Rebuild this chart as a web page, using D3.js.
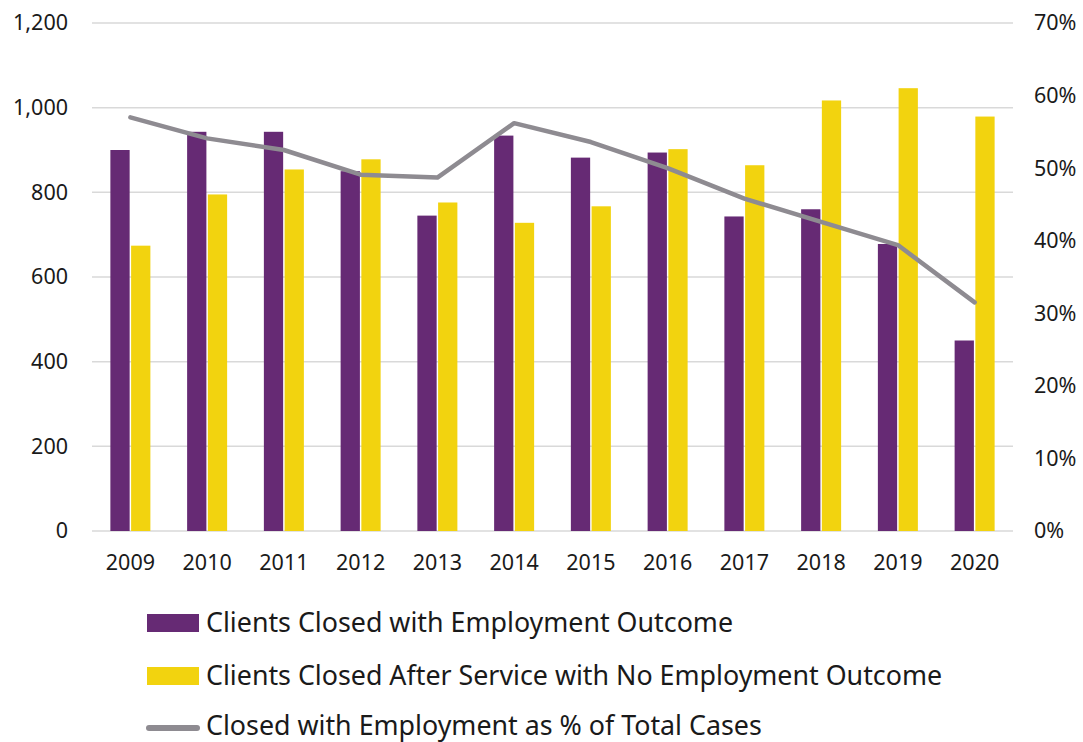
<!DOCTYPE html>
<html>
<head>
<meta charset="utf-8">
<script src="https://cdn.jsdelivr.net/npm/d3@7"></script>
<style>
  html, body { margin: 0; padding: 0; background: #fff; }
  svg { display: block; font-family: "Noto Sans", "Open Sans", sans-serif; }
</style>
</head>
<body>
<svg id="chart" width="1083" height="742"></svg>
<script>
// Annual case closures and employment share
const years = ["2009","2010","2011","2012","2013","2014","2015","2016","2017","2018","2019","2020"];
const closedEmployed = [900, 943, 943, 850, 745, 934, 882, 894, 743, 760, 678, 450];
const closedNoEmployment = [674, 795, 854, 878, 776, 728, 767, 902, 864, 1017, 1046, 979];
const employedShare = [0.570, 0.541, 0.525, 0.491, 0.487, 0.562, 0.536, 0.500, 0.458, 0.426, 0.394, 0.315];
const leftTicks = [0, 200, 400, 600, 800, 1000, 1200];
const rightTicks = [0, 0.1, 0.2, 0.3, 0.4, 0.5, 0.6, 0.7];
const seriesNames = [
  "Clients Closed with Employment Outcome",
  "Clients Closed After Service with No Employment Outcome",
  "Closed with Employment as % of Total Cases"
];

const purple = "#662a74";
const yellow = "#f2d30f";
const grey = "#8e8b91";
const textColor = "#1a1a1a";

const svg = d3.select("#chart");
const plot = { left: 92, right: 1013, top: 23, bottom: 531 };

const x = d3.scaleBand().domain(years).range([plot.left, plot.right]);
const xSub = d3.scaleBand().domain(["a", "b"]).range([0, 40]).paddingInner(0.07);
const yLeft = d3.scaleLinear().domain([0, 1200]).range([plot.bottom, plot.top]);
const yRight = d3.scaleLinear().domain([0, 0.7]).range([plot.bottom, plot.top]);

// Gridlines
svg.append("g")
  .selectAll("line")
  .data(leftTicks)
  .join("line")
  .attr("x1", plot.left).attr("x2", plot.right)
  .attr("y1", d => yLeft(d)).attr("y2", d => yLeft(d))
  .attr("stroke", "#d9d9d9").attr("stroke-width", 1.5);

function styleTicks(g) {
  g.select(".domain").remove();
  g.selectAll("text").attr("font-size", 21.5).attr("fill", textColor).attr("font-family", "Noto Sans");
}

// Left axis
svg.append("g")
  .attr("transform", `translate(${plot.left - 24},0)`)
  .call(d3.axisLeft(yLeft).tickValues(leftTicks).tickSize(0).tickPadding(0).tickFormat(d3.format(",")))
  .call(styleTicks);

// Right axis
svg.append("g")
  .attr("transform", `translate(${plot.right + 21},0)`)
  .call(d3.axisRight(yRight).tickValues(rightTicks).tickSize(0).tickPadding(0).tickFormat(d3.format(".0%")))
  .call(styleTicks);

// Bottom axis
svg.append("g")
  .attr("transform", `translate(0,${plot.bottom + 24})`)
  .call(d3.axisBottom(x).tickSize(0).tickPadding(0))
  .call(styleTicks)
  .selectAll("text").attr("dy", "0.71em");

// Bars
const groups = svg.append("g")
  .selectAll("g")
  .data(years)
  .join("g")
  .attr("transform", d => `translate(${x(d) + x.bandwidth() / 2 - 20},0)`);

groups.append("rect")
  .attr("x", xSub("a")).attr("width", xSub.bandwidth())
  .attr("y", (d, i) => yLeft(closedEmployed[i]))
  .attr("height", (d, i) => yLeft(0) - yLeft(closedEmployed[i]))
  .attr("fill", purple);

groups.append("rect")
  .attr("x", xSub("b")).attr("width", xSub.bandwidth())
  .attr("y", (d, i) => yLeft(closedNoEmployment[i]))
  .attr("height", (d, i) => yLeft(0) - yLeft(closedNoEmployment[i]))
  .attr("fill", yellow);

// Employment share line
const line = d3.line()
  .x((d, i) => x(years[i]) + x.bandwidth() / 2)
  .y(d => yRight(d));

svg.append("path")
  .datum(employedShare)
  .attr("d", line)
  .attr("fill", "none")
  .attr("stroke", grey)
  .attr("stroke-width", 4.5)
  .attr("stroke-linejoin", "round")
  .attr("stroke-linecap", "round");

// Legend
const legend = svg.append("g").attr("transform", "translate(147,0)");
const rowsY = [623, 676, 726];

legend.append("rect").attr("x", 0).attr("y", rowsY[0] - 9).attr("width", 52).attr("height", 18).attr("fill", purple);
legend.append("rect").attr("x", 0).attr("y", rowsY[1] - 9).attr("width", 52).attr("height", 18).attr("fill", yellow);
legend.append("line").attr("x1", 2).attr("x2", 50).attr("y1", rowsY[2] + 2).attr("y2", rowsY[2] + 2)
  .attr("stroke", grey).attr("stroke-width", 6).attr("stroke-linecap", "round");

legend.selectAll("text.leg")
  .data(seriesNames)
  .join("text")
  .attr("class", "leg")
  .attr("x", 59)
  .attr("y", (d, i) => rowsY[i])
  .attr("dy", "0.33em")
  .attr("font-size", 26.8)
  .attr("fill", textColor)
  .text(d => d);
</script>
</body>
</html>
